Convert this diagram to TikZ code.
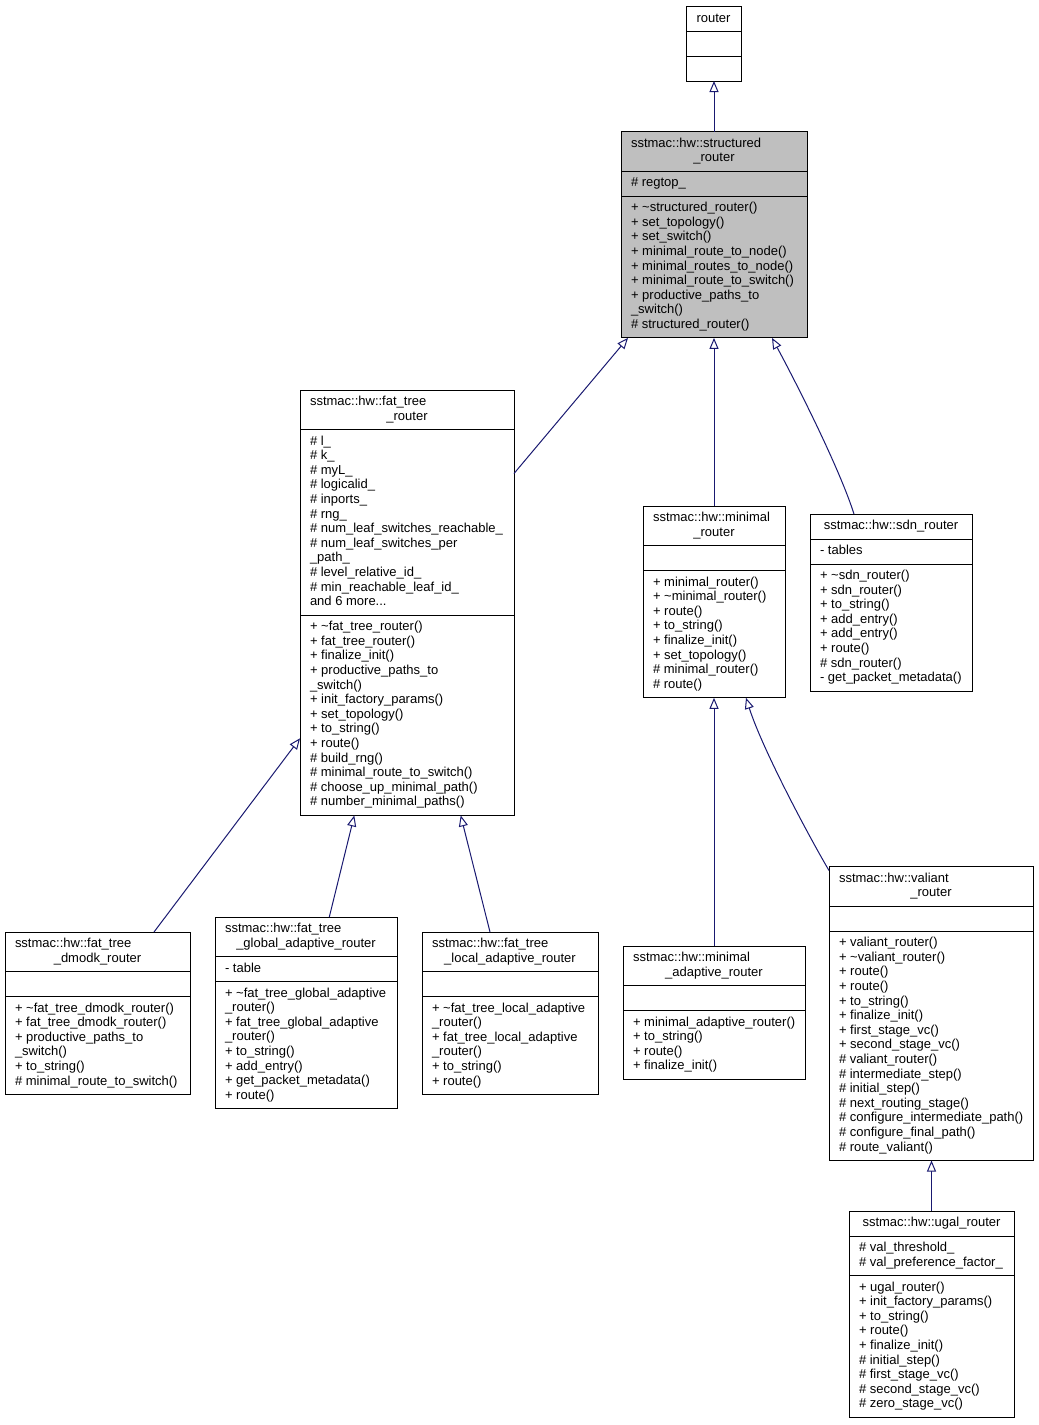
\documentclass[tikz,border=0pt]{standalone}
\usepackage{fontspec}
\setmainfont{Liberation Sans}
\usetikzlibrary{arrows.meta,calc}
\definecolor{edgeblue}{RGB}{25,25,112}
\definecolor{hlgray}{RGB}{191,191,191}
\tikzset{
  cls/.style={draw=black, line width=0.9pt, rectangle, anchor=north west, inner sep=0pt, outer sep=0pt},
  txt/.style={anchor=base west, inner sep=0pt, outer sep=0pt, font=\fontsize{13}{14.6}\selectfont},
  ctr/.style={txt, anchor=base},
  sepl/.style={draw=black, line width=0.9pt},
  inh/.style={draw=edgeblue, line width=1pt, -{Triangle[open, length=11pt, width=9pt, fill=white]}},
}
\newcommand\members[4]{\foreach \mytext [count=\i] in {#4} {\node[txt] (#1-\i) at (#2,{#3+(\i-1)*14.6}) {\mytext};}}
\newcommand\sepat[2]{\draw[sepl] ([yshift=-#2pt]#1.north west) -- ([yshift=-#2pt]#1.north east);}
\begin{document}
\begin{tikzpicture}[x=1pt,y=-1pt]
\useasboundingbox (0,0) rectangle (1039,1425);

% router
\node[cls, minimum width=55pt, minimum height=75pt] (router) at (686,6) {};
\sepat{router}{25}\sepat{router}{50}
\node[ctr] (router-t) at (713.5,22) {router};

% structured_router
\node[cls, fill=hlgray, minimum width=186pt, minimum height=206.4pt] (structured) at (621,131.5) {};
\sepat{structured}{39.6}\sepat{structured}{64.6}
\node[txt] (structured-t1) at (631,147) {sstmac::hw::structured};
\node[ctr] (structured-t2) at (714,161.6) {\_router};
\members{structured-a}{631}{186.6}{\# regtop\_}
\members{structured-m}{631}{211.6}{+ \textasciitilde{}structured\_router(),+ set\_topology(),+ set\_switch(),+ minimal\_route\_to\_node(),+ minimal\_routes\_to\_node(),+ minimal\_route\_to\_switch(),+ productive\_paths\_to,\_switch(),\# structured\_router()}

% fat_tree_router
\node[cls, minimum width=214pt, minimum height=425.4pt] (fat) at (300,390) {};
\sepat{fat}{39.6}\sepat{fat}{225.2}
\node[txt] (fat-t1) at (310,405.5) {sstmac::hw::fat\_tree};
\node[ctr] (fat-t2) at (407,420.1) {\_router};
\members{fat-a}{310}{445.1}{\# l\_,\# k\_,\# myL\_,\# logicalid\_,\# inports\_,\# rng\_,\# num\_leaf\_switches\_reachable\_,\# num\_leaf\_switches\_per,\_path\_,\# level\_relative\_id\_,\# min\_reachable\_leaf\_id\_,and 6 more{...}}
\members{fat-m}{310}{630.7}{+ \textasciitilde{}fat\_tree\_router(),+ fat\_tree\_router(),+ finalize\_init(),+ productive\_paths\_to,\_switch(),+ init\_factory\_params(),+ set\_topology(),+ to\_string(),+ route(),\# build\_rng(),\# minimal\_route\_to\_switch(),\# choose\_up\_minimal\_path(),\# number\_minimal\_paths()}

% minimal_router
\node[cls, minimum width=142pt, minimum height=191.8pt] (minimal) at (643,506) {};
\sepat{minimal}{39.6}\sepat{minimal}{64.6}
\node[txt] (minimal-t1) at (653,521.5) {sstmac::hw::minimal};
\node[ctr] (minimal-t2) at (714,536.1) {\_router};
\members{minimal-m}{653}{586.1}{+ minimal\_router(),+ \textasciitilde{}minimal\_router(),+ route(),+ to\_string(),+ finalize\_init(),+ set\_topology(),\# minimal\_router(),\# route()}

% sdn_router
\node[cls, minimum width=162pt, minimum height=177.2pt] (sdn) at (810,514) {};
\sepat{sdn}{25}\sepat{sdn}{50}
\node[ctr] (sdn-t) at (891,529.5) {sstmac::hw::sdn\_router};
\members{sdn-a}{820}{554.5}{- tables}
\members{sdn-m}{820}{579.5}{+ \textasciitilde{}sdn\_router(),+ sdn\_router(),+ to\_string(),+ add\_entry(),+ add\_entry(),+ route(),\# sdn\_router(),- get\_packet\_metadata()}

% fat_tree_dmodk_router
\node[cls, minimum width=185pt, minimum height=162.6pt] (dmodk) at (5,932) {};
\sepat{dmodk}{39.6}\sepat{dmodk}{64.6}
\node[txt] (dmodk-t1) at (15,947.5) {sstmac::hw::fat\_tree};
\node[ctr] (dmodk-t2) at (97.5,962.1) {\_dmodk\_router};
\members{dmodk-m}{15}{1012.1}{+ \textasciitilde{}fat\_tree\_dmodk\_router(),+ fat\_tree\_dmodk\_router(),+ productive\_paths\_to,\_switch(),+ to\_string(),\# minimal\_route\_to\_switch()}

% fat_tree_global_adaptive_router
\node[cls, minimum width=182pt, minimum height=191.8pt] (global) at (215,917) {};
\sepat{global}{39.6}\sepat{global}{64.6}
\node[txt] (global-t1) at (225,932.5) {sstmac::hw::fat\_tree};
\node[ctr] (global-t2) at (306,947.1) {\_global\_adaptive\_router};
\members{global-a}{225}{972.1}{- table}
\members{global-m}{225}{997.1}{+ \textasciitilde{}fat\_tree\_global\_adaptive,\_router(),+ fat\_tree\_global\_adaptive,\_router(),+ to\_string(),+ add\_entry(),+ get\_packet\_metadata(),+ route()}

% fat_tree_local_adaptive_router
\node[cls, minimum width=176pt, minimum height=162.6pt] (local) at (422,932) {};
\sepat{local}{39.6}\sepat{local}{64.6}
\node[txt] (local-t1) at (432,947.5) {sstmac::hw::fat\_tree};
\node[ctr] (local-t2) at (510,962.1) {\_local\_adaptive\_router};
\members{local-m}{432}{1012.1}{+ \textasciitilde{}fat\_tree\_local\_adaptive,\_router(),+ fat\_tree\_local\_adaptive,\_router(),+ to\_string(),+ route()}

% minimal_adaptive_router
\node[cls, minimum width=182pt, minimum height=133.4pt] (madapt) at (623,946) {};
\sepat{madapt}{39.6}\sepat{madapt}{64.6}
\node[txt] (madapt-t1) at (633,961.5) {sstmac::hw::minimal};
\node[ctr] (madapt-t2) at (714,976.1) {\_adaptive\_router};
\members{madapt-m}{633}{1026.1}{+ minimal\_adaptive\_router(),+ to\_string(),+ route(),+ finalize\_init()}

% valiant_router
\node[cls, minimum width=204pt, minimum height=294pt] (valiant) at (829,866.5) {};
\sepat{valiant}{39.6}\sepat{valiant}{64.6}
\node[txt] (valiant-t1) at (839,882) {sstmac::hw::valiant};
\node[ctr] (valiant-t2) at (931,896.6) {\_router};
\members{valiant-m}{839}{946.6}{+ valiant\_router(),+ \textasciitilde{}valiant\_router(),+ route(),+ route(),+ to\_string(),+ finalize\_init(),+ first\_stage\_vc(),+ second\_stage\_vc(),\# valiant\_router(),\# intermediate\_step(),\# initial\_step(),\# next\_routing\_stage(),\# configure\_intermediate\_path(),\# configure\_final\_path(),\# route\_valiant()}

% ugal_router
\node[cls, minimum width=165pt, minimum height=206.4pt] (ugal) at (849,1211) {};
\sepat{ugal}{25}\sepat{ugal}{64.6}
\node[ctr] (ugal-t) at (931.5,1226.5) {sstmac::hw::ugal\_router};
\members{ugal-a}{859}{1251.5}{\# val\_threshold\_,\# val\_preference\_factor\_}
\members{ugal-m}{859}{1291.1}{+ ugal\_router(),+ init\_factory\_params(),+ to\_string(),+ route(),+ finalize\_init(),\# initial\_step(),\# first\_stage\_vc(),\# second\_stage\_vc(),\# zero\_stage\_vc()}

% inheritance connectors
\draw[inh] (structured.north) -- (structured.north |- router.south);
\draw[inh] ($(fat.north east)+(0,83.5)$) -- ($(structured.south west)+(7,0)$);
\draw[inh] (minimal.north) -- (minimal.north |- structured.south);
\draw[inh] ($(sdn.north west)+(44,0)$) .. controls (840,470) and (800,390) .. ($(structured.south east)+(-35,0)$);
\draw[inh] ($(dmodk.north west)+(149,0)$) -- ($(fat.north west)+(0,348.3)$);
\draw[inh] ($(global.north west)+(114.3,0)$) -- ($(fat.south west)+(54.3,0)$);
\draw[inh] ($(local.north west)+(68,0)$) -- ($(fat.south west)+(160.7,0)$);
\draw[inh] (madapt.north) -- (madapt.north |- minimal.south);
\draw[inh] ($(valiant.north west)+(0,4)$) .. controls (807,833) and (762,748) .. ($(minimal.south east)+(-39,0)$);
\draw[inh] (ugal.north) -- (ugal.north |- valiant.south);
\end{tikzpicture}
\end{document}
